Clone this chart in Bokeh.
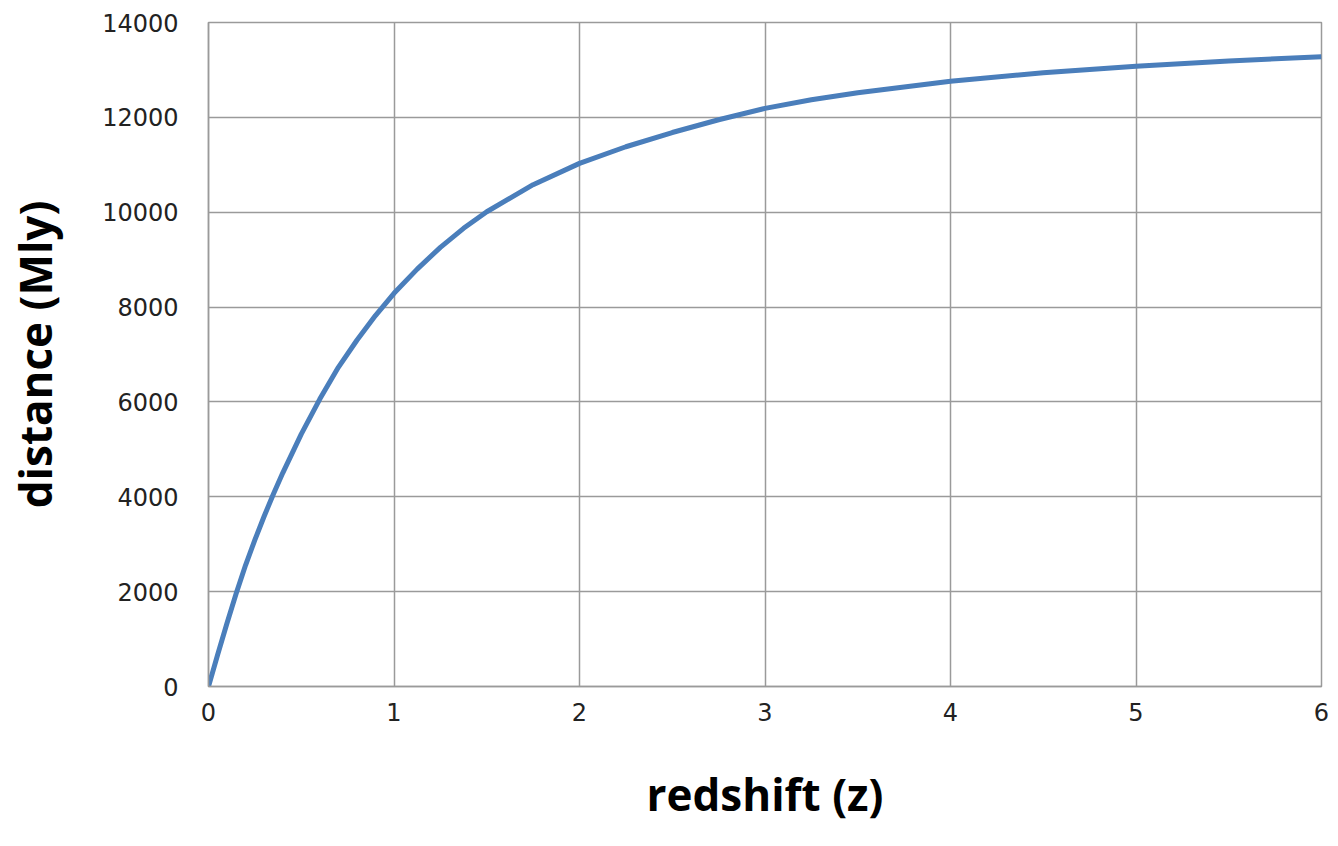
from bokeh.plotting import figure
from bokeh.models import Range1d, FixedTicker
from bokeh.embed import file_html
from bokeh.resources import INLINE

redshift = [0, 0.05, 0.1, 0.15, 0.2, 0.25, 0.3, 0.35, 0.4, 0.5, 0.6, 0.7, 0.8, 0.9, 1.0,
            1.125, 1.25, 1.375, 1.5, 1.75, 2.0, 2.25, 2.5, 2.75, 3.0, 3.25, 3.5, 4.0, 4.5,
            5.0, 5.5, 6.0]
distance = [0, 680, 1340, 1970, 2560, 3090, 3590, 4060, 4500, 5320, 6060, 6730, 7300, 7820,
            8290, 8800, 9260, 9660, 10010, 10580, 11030, 11380, 11680, 11950, 12190,
            12370, 12520, 12760, 12940, 13080, 13190, 13280]
x_ticks = [0, 1, 2, 3, 4, 5, 6]
y_ticks = [0, 2000, 4000, 6000, 8000, 10000, 12000, 14000]

p = figure(width=1332, height=830, output_backend="svg", toolbar_location=None,
           x_range=Range1d(0, 6), y_range=Range1d(0, 14000),
           min_border_left=208, min_border_top=22, min_border_right=11, min_border_bottom=144)

p.line(redshift, distance, line_color="#4a7ebb", line_width=5, line_join="round")

grid_col = "#9a9a9a"
p.xaxis.ticker = FixedTicker(ticks=x_ticks)
p.yaxis.ticker = FixedTicker(ticks=y_ticks)
p.xgrid.ticker = FixedTicker(ticks=x_ticks)
p.ygrid.ticker = FixedTicker(ticks=y_ticks)
for g in (p.xgrid, p.ygrid):
    g.grid_line_color = grid_col
    g.grid_line_width = 1.5
p.outline_line_color = grid_col
p.outline_line_width = 1.5

for ax in (p.xaxis, p.yaxis):
    ax.axis_line_color = grid_col
    ax.axis_line_width = 1.5
    ax.major_tick_out = 0
    ax.major_tick_in = 0
    ax.minor_tick_out = 0
    ax.minor_tick_in = 0
    ax.major_label_text_font = "DejaVu Sans"
    ax.major_label_text_font_size = "24px"
    ax.major_label_text_color = "#222222"
    ax.axis_label_text_font = "Open Sans"
    ax.axis_label_text_font_style = "bold"
    ax.axis_label_text_font_size = "44px"
    ax.axis_label_text_color = "#000000"

p.xaxis.axis_label = "redshift (z)"
p.yaxis.axis_label = "distance (Mly)"
p.xaxis.major_label_standoff = 16
p.yaxis.major_label_standoff = 30
p.xaxis.axis_label_standoff = 40
p.yaxis.axis_label_standoff = 34

open("out.html", "w").write(file_html(p, INLINE))
